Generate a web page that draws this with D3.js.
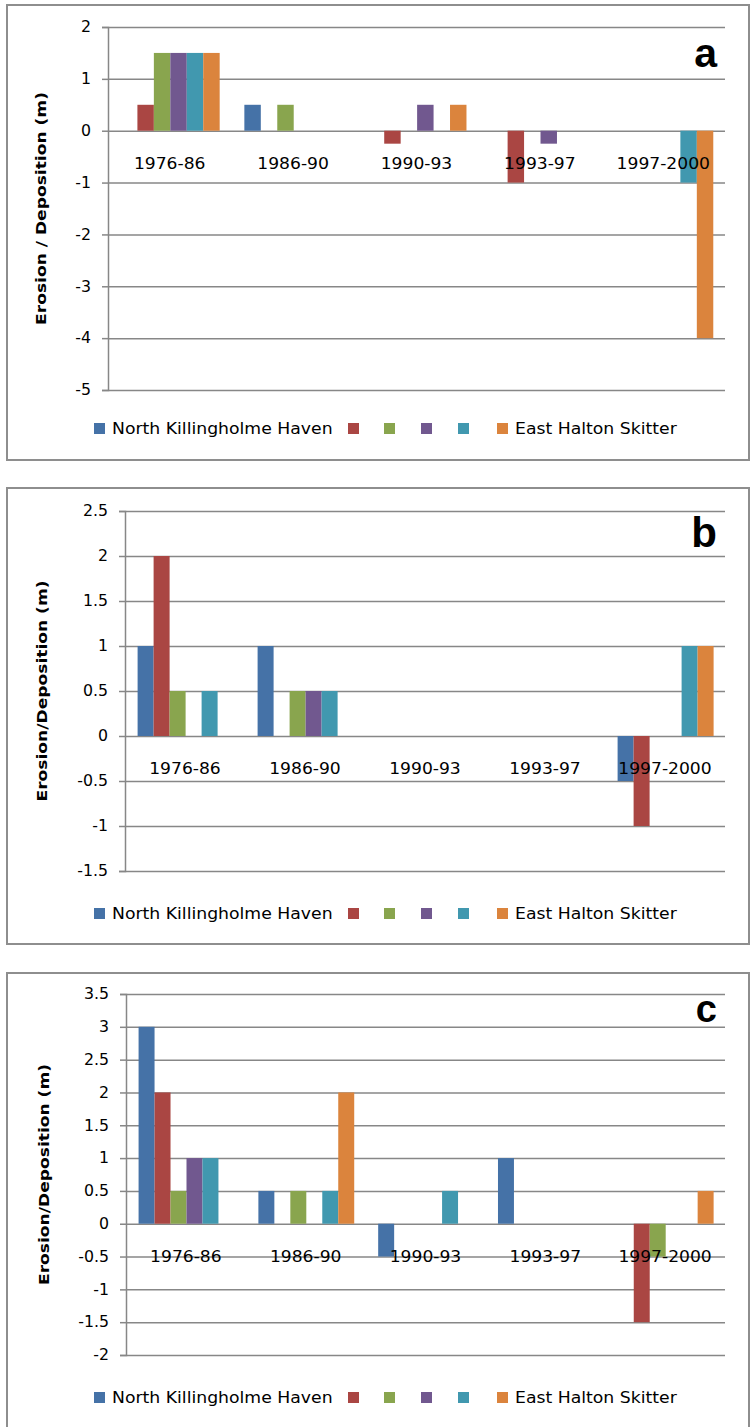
<!DOCTYPE html>
<html>
<head>
<meta charset="utf-8">
<script src="https://cdn.jsdelivr.net/npm/d3@7"></script>
<style>
  body { margin: 0; background: #fff; }
  svg { display: block; }
</style>
</head>
<body>
<svg id="chart" width="750" height="1427"></svg>
<script>
// categories and series
var categories = ["1976-86", "1986-90", "1990-93", "1993-97", "1997-2000"];
var seriesNames = ["North Killingholme Haven", "", "", "", "", "East Halton Skitter"];
var colors = ["#4572A7", "#AA4643", "#89A54E", "#71588F", "#4198AF", "#DB843D"];

// panel a values, one array per series (across categories)
var aBlue   = [0, 0.5, 0, 0, 0];
var aRed    = [0.5, 0, -0.25, -1, 0];
var aGreen  = [1.5, 0.5, 0, 0, 0];
var aPurple = [1.5, 0, 0.5, -0.25, 0];
var aTeal   = [1.5, 0, 0, 0, -1];
var aOrange = [1.5, 0, 0.5, 0, -4];

// panel b
var bBlue   = [1, 1, 0, 0, -0.5];
var bRed    = [2, 0, 0, 0, -1];
var bGreen  = [0.5, 0.5, 0, 0, 0];
var bPurple = [0, 0.5, 0, 0, 0];
var bTeal   = [0.5, 0.5, 0, 0, 1];
var bOrange = [0, 0, 0, 0, 1];

// panel c
var cBlue   = [3, 0.5, -0.5, 1, 0];
var cRed    = [2, 0, 0, 0, -1.5];
var cGreen  = [0.5, 0.5, 0, 0, -0.5];
var cPurple = [1, 0, 0, 0, 0];
var cTeal   = [1, 0.5, 0.5, 0, 0];
var cOrange = [0, 2, 0, 0, 0.5];

// y ticks
var aTicks = [-5, -4, -3, -2, -1, 0, 1, 2];
var bTicks = [-1.5, -1, -0.5, 0, 0.5, 1, 1.5, 2, 2.5];
var cTicks = [-2, -1.5, -1, -0.5, 0, 0.5, 1, 1.5, 2, 2.5, 3, 3.5];

// layout of each panel (pixels)
var panels = [
  { letter: "a", yLabel: "Erosion / Deposition (m)", series: [aBlue, aRed, aGreen, aPurple, aTeal, aOrange],
    ticks: aTicks, box: [7, 5, 749, 460], left: 108, right: 725, top: 27, bottom: 390,
    letterY: 67, letterSize: 41, labelX: 41, legendY: 428 },
  { letter: "b", yLabel: "Erosion/Deposition (m)", series: [bBlue, bRed, bGreen, bPurple, bTeal, bOrange],
    ticks: bTicks, box: [7, 488, 749, 944], left: 125, right: 725, top: 511, bottom: 871,
    letterY: 547, letterSize: 42, labelX: 42, legendY: 913 },
  { letter: "c", yLabel: "Erosion/Deposition (m)", series: [cBlue, cRed, cGreen, cPurple, cTeal, cOrange],
    ticks: cTicks, box: [7, 973, 749, 1432], left: 126, right: 725, top: 994, bottom: 1355,
    letterY: 1022, letterSize: 38, labelX: 44, legendY: 1397 }
];

// legend square x positions
var legendX = [94, 348, 384, 421, 458, 497];

var svg = d3.select("#chart");

// widen text a bit, the source picture is stretched sideways
function stretch(sel, k) {
  sel.each(function() {
    var w = this.getComputedTextLength();
    d3.select(this).attr("textLength", w * k).attr("lengthAdjust", "spacingAndGlyphs");
  });
}

panels.forEach(function(p) {
  var g = svg.append("g");

  g.append("rect")
    .attr("x", p.box[0]).attr("y", p.box[1])
    .attr("width", p.box[2] - p.box[0]).attr("height", p.box[3] - p.box[1])
    .attr("fill", "#fff").attr("stroke", "#8e8e8e").attr("stroke-width", 2);

  var y = d3.scaleLinear()
    .domain([d3.min(p.ticks), d3.max(p.ticks)])
    .range([p.bottom, p.top]);

  var x0 = d3.scaleBand()
    .domain(categories)
    .range([p.left, p.right]);

  var step = x0.step();
  var x1 = d3.scaleBand()
    .domain(d3.range(6))
    .range([0.105 * step, 0.905 * step]);

  // gridlines
  var grid = g.append("g")
    .attr("transform", "translate(" + p.left + ",0)")
    .call(d3.axisLeft(y).tickValues(p.ticks).tickSize(-(p.right - p.left)).tickFormat(""));
  grid.select(".domain").remove();
  grid.selectAll("line").attr("stroke", "#878787").attr("stroke-width", 1.5);

  // y axis with ticks and labels
  var yAxis = g.append("g")
    .attr("transform", "translate(" + p.left + ",0)")
    .call(d3.axisLeft(y).tickValues(p.ticks).tickSize(6).tickPadding(11).tickFormat(function(d) { return String(d); }));
  yAxis.select(".domain").attr("stroke", "#878787").attr("stroke-width", 1.5);
  yAxis.selectAll(".tick line").attr("stroke", "#878787").attr("stroke-width", 1.5);
  yAxis.selectAll(".tick text")
    .attr("fill", "#000")
    .style("font-family", "DejaVu Sans")
    .style("font-size", "15px")
    .call(stretch, 1.05);

  // bars
  p.series.forEach(function(vals, si) {
    g.append("g").selectAll("rect")
      .data(vals)
      .enter()
      .append("rect")
      .attr("x", function(d, i) { return x0(categories[i]) + x1(si); })
      .attr("width", x1.bandwidth())
      .attr("y", function(d) { return y(Math.max(0, d)); })
      .attr("height", function(d) { return Math.abs(y(d) - y(0)); })
      .attr("fill", colors[si]);
  });

  // category labels below the zero line
  g.append("g").selectAll("text")
    .data(categories)
    .enter()
    .append("text")
    .attr("x", function(d) { return x0(d) + step / 2; })
    .attr("y", y(0) + 38)
    .attr("text-anchor", "middle")
    .attr("fill", "#000")
    .style("font-family", "DejaVu Sans")
    .style("font-size", "16px")
    .text(function(d) { return d; })
    .call(stretch, 1.07);

  // y axis title
  g.append("text")
    .attr("transform", "translate(" + (p.labelX + 5) + "," + ((p.top + p.bottom) / 2) + ") rotate(-90)")
    .attr("text-anchor", "middle")
    .attr("fill", "#000")
    .style("font-family", "DejaVu Sans")
    .style("font-weight", "bold")
    .style("font-size", "14px")
    .text(p.yLabel)
    .call(stretch, 1.22);

  // panel letter
  g.append("text")
    .attr("x", 717)
    .attr("y", p.letterY)
    .attr("text-anchor", "end")
    .attr("fill", "#000")
    .style("font-family", "Liberation Sans")
    .style("font-weight", "bold")
    .style("font-size", p.letterSize + "px")
    .text(p.letter);

  // legend
  var leg = g.append("g").selectAll("g")
    .data(seriesNames)
    .enter()
    .append("g")
    .attr("transform", function(d, i) { return "translate(" + legendX[i] + "," + p.legendY + ")"; });
  leg.append("rect")
    .attr("x", 0).attr("y", -5)
    .attr("width", 11).attr("height", 11)
    .attr("fill", function(d, i) { return colors[i]; });
  leg.filter(function(d) { return d !== ""; })
    .append("text")
    .attr("x", 18)
    .attr("y", 6)
    .attr("fill", "#000")
    .style("font-family", "DejaVu Sans")
    .style("font-size", "15px")
    .text(function(d) { return d; })
    .call(stretch, 1.15);
});
</script>
</body>
</html>
